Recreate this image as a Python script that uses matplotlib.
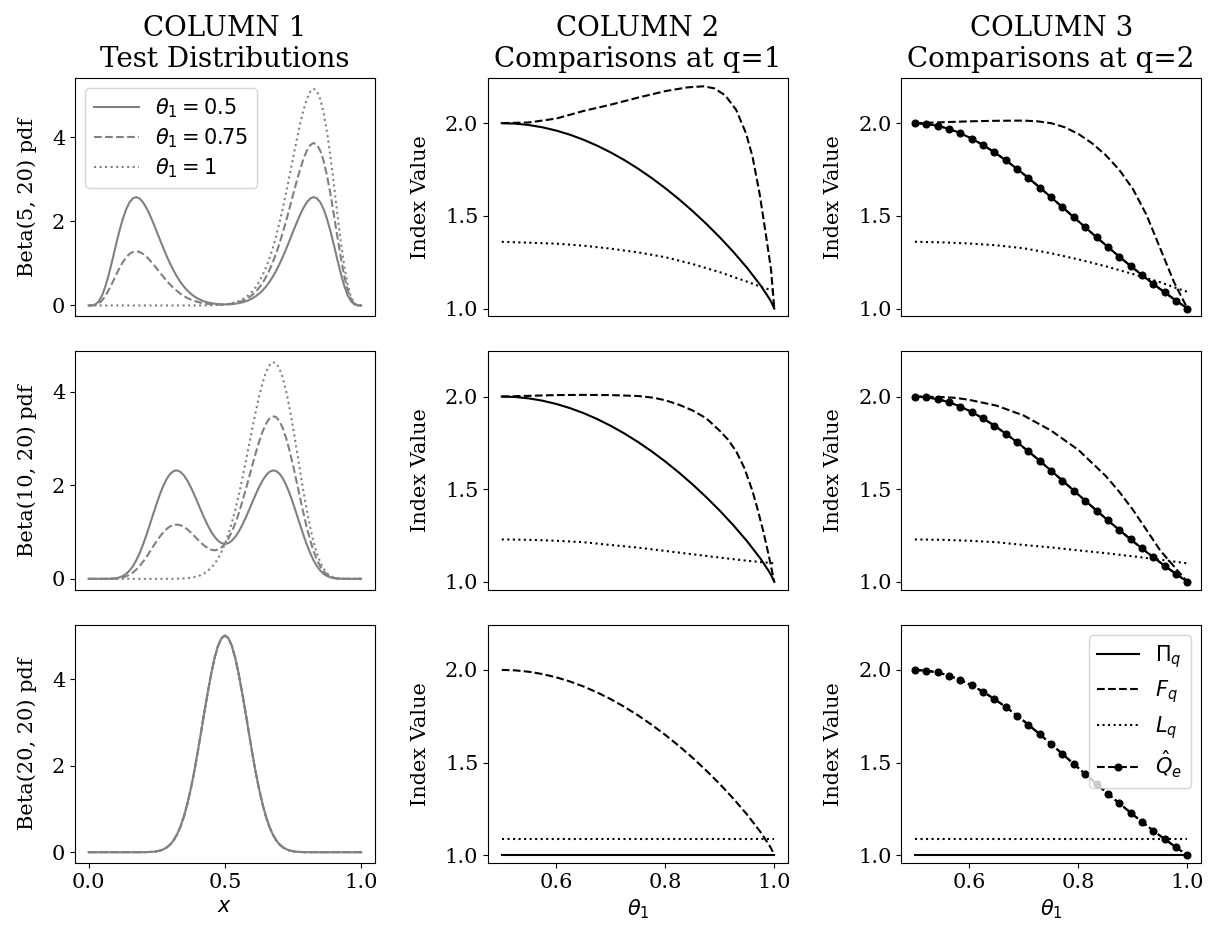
import numpy as np
import matplotlib
matplotlib.use("Agg")
import matplotlib.pyplot as plt

plt.rcParams['font.family'] = 'serif'
plt.rcParams['font.serif'] = ['DejaVu Serif']
plt.rcParams['mathtext.fontset'] = 'dejavusans'

# ---------------- Column 1: test distributions (x sampled every 0.0125) ------
x_grid = np.linspace(0, 1, 81)

beta5_t050 = [0, 0.0021, 0.0257, 0.1017, 0.2506, 0.4757, 0.7643, 1.0935, 1.4354, 1.7626,
              2.051, 2.2856, 2.453, 2.5497, 2.577, 2.541, 2.450, 2.3151, 2.1465, 1.9569,
              1.755, 1.5501, 1.3495, 1.1583, 0.981, 0.8202, 0.677, 0.5521, 0.4445, 0.3538,
              0.278, 0.2163, 0.1665, 0.1263, 0.095, 0.0712, 0.0535, 0.0405, 0.032, 0.027,
              0.025,
              0.027, 0.032, 0.0405, 0.0535, 0.0712, 0.095, 0.1263, 0.1665, 0.2163, 0.278,
              0.3538, 0.4445, 0.5521, 0.677, 0.8202, 0.981, 1.1583, 1.3495, 1.5501, 1.755,
              1.9569, 2.1465, 2.3151, 2.450, 2.541, 2.577, 2.5497, 2.453, 2.2856, 2.051,
              1.7626, 1.4354, 1.0935, 0.7643, 0.4757, 0.2506, 0.1017, 0.0257, 0.0021, 0]
beta5_t075 = [0, 0.001, 0.0128, 0.0508, 0.1253, 0.2379, 0.3821, 0.5467, 0.7177, 0.8813,
              1.0255, 1.1428, 1.2265, 1.2749, 1.2885, 1.2705, 1.225, 1.1575, 1.0733, 0.9784,
              0.8775, 0.7751, 0.6748, 0.5791, 0.4905, 0.4101, 0.3385, 0.2760, 0.2223, 0.1769,
              0.139, 0.1084, 0.0838, 0.0638, 0.0485, 0.0372, 0.0293, 0.0241, 0.022, 0.0221,
              0.025,
              0.0318, 0.042, 0.0569, 0.0778, 0.1052, 0.1415, 0.1888, 0.2493, 0.3241, 0.417,
              0.5306, 0.667, 0.8281, 1.0155, 1.2303, 1.4715, 1.7374, 2.0243, 2.3252, 2.6325,
              2.9353, 3.2198, 3.4726, 3.675, 3.8115, 3.8655, 3.8246, 3.6795, 3.4284, 3.0765,
              2.6439, 2.1530, 1.6402, 1.1464, 0.7136, 0.3759, 0.1525, 0.0385, 0.0031, 0]
beta5_t100 = [0, 0, 0, 0, 0, 0, 0, 0, 0, 0,
              0, 0, 0, 0, 0, 0, 0, 0, 0, 0,
              0, 0, 0, 0, 0, 0, 0, 0, 0, 0,
              0, 0.0005, 0.001, 0.0013, 0.002, 0.0032, 0.005, 0.0077, 0.012, 0.0173,
              0.025,
              0.0366, 0.052, 0.0733, 0.102, 0.1392, 0.188, 0.2513, 0.332, 0.4320, 0.556,
              0.7075, 0.889, 1.1041, 1.354, 1.6404, 1.962, 2.3165, 2.699, 3.1002, 3.510,
              3.9137, 4.293, 4.6301, 4.900, 5.0820, 5.154, 5.0994, 4.906, 4.5712, 4.102,
              3.5252, 2.8707, 2.1869, 1.5285, 0.9514, 0.5012, 0.2033, 0.0513, 0.0041, 0]

beta10_t050 = [0, 0, 0, 0, 0.0001, 0.0005, 0.0017, 0.0053, 0.0136, 0.0300,
               0.059, 0.1059, 0.1755, 0.2723, 0.3985, 0.555, 0.739, 0.9455, 1.167, 1.3937,
               1.6155, 1.8209, 2.0002, 2.1447, 2.2475, 2.3049, 2.3155, 2.2812, 2.2055, 2.0945,
               1.956, 1.7971, 1.628, 1.4558, 1.29, 1.1366, 1.003, 0.8935, 0.8125, 0.7629,
               0.746,
               0.7629, 0.8125, 0.8935, 1.003, 1.1366, 1.29, 1.4558, 1.628, 1.7971, 1.956,
               2.0945, 2.2055, 2.2812, 2.3155, 2.3049, 2.2475, 2.1447, 2.0002, 1.8209, 1.6155,
               1.3937, 1.167, 0.9455, 0.739, 0.555, 0.3985, 0.2723, 0.1755, 0.1059, 0.059,
               0.0300, 0.0136, 0.0053, 0.0017, 0.0005, 0.0001, 0, 0, 0, 0]
beta10_t075 = [0, 0, 0, 0, 0, 0.0002, 0.0009, 0.0027, 0.0068, 0.0150,
               0.0295, 0.0530, 0.0878, 0.1362, 0.1993, 0.2775, 0.3695, 0.4728, 0.5835, 0.6969,
               0.8078, 0.9105, 1.0002, 1.0726, 1.1243, 1.1533, 1.1593, 1.1434, 1.1073, 1.0547,
               0.990, 0.9169, 0.842, 0.7691, 0.705, 0.6535, 0.6205, 0.6094, 0.6248, 0.6695,
               0.746,
               0.8564, 1.0003, 1.1777, 1.3855, 1.6197, 1.875, 2.1424, 2.414, 2.6773, 2.922,
               3.1344, 3.3038, 3.4192, 3.4718, 3.4564, 3.3708, 3.2167, 3.0, 2.7314, 2.4233,
               2.0906, 1.7505, 1.4183, 1.1085, 0.8325, 0.5978, 0.4085, 0.2633, 0.1589, 0.0885,
               0.0449, 0.0203, 0.008, 0.0026, 0.0007, 0.0001, 0, 0, 0, 0]
beta10_t100 = [0, 0, 0, 0, 0, 0, 0, 0, 0, 0,
               0, 0, 0, 0, 0, 0, 0, 0, 0, 0,
               0, 0, 0.0003, 0.0005, 0.001, 0.0017, 0.003, 0.0054, 0.009, 0.0148,
               0.024, 0.0366, 0.056, 0.0824, 0.120, 0.1704, 0.238, 0.3252, 0.437, 0.5760,
               0.746,
               0.9498, 1.188, 1.4618, 1.768, 2.1028, 2.460, 2.8291, 3.200, 3.5575, 3.888,
               4.1742, 4.402, 4.5570, 4.628, 4.6080, 4.494, 4.2888, 4.000, 3.6418, 3.231,
               2.7874, 2.334, 1.8910, 1.478, 1.1100, 0.797, 0.5446, 0.351, 0.2118, 0.118,
               0.0599, 0.0271, 0.0106, 0.0034, 0.0009, 0.0001, 0, 0, 0, 0]

beta20_all = [0, 0, 0, 0, 0, 0, 0, 0, 0, 0,
              0, 0, 0, 0, 0.0002, 0.0004, 0.001, 0.0024, 0.005, 0.011,
              0.021, 0.0389, 0.068, 0.1139, 0.183, 0.2817, 0.419, 0.6013, 0.836, 1.1256,
              1.471, 1.8689, 2.309, 2.7772, 3.254, 3.7179, 4.143, 4.5051, 4.782, 4.9561,
              5.015,
              4.9561, 4.782, 4.5051, 4.143, 3.7179, 3.254, 2.7772, 2.309, 1.8689, 1.471,
              1.1256, 0.836, 0.6013, 0.419, 0.2817, 0.183, 0.1139, 0.068, 0.0389, 0.021,
              0.011, 0.005, 0.0024, 0.001, 0.0004, 0.0002, 0, 0, 0, 0,
              0, 0, 0, 0, 0, 0, 0, 0, 0, 0]

theta_labels = [r'$\theta_1 = 0.5$', r'$\theta_1 = 0.75$', r'$\theta_1 = 1$']
col1_ylabels = ['Beta(5, 20) pdf', 'Beta(10, 20) pdf', 'Beta(20, 20) pdf']

# ---------------- Columns 2 & 3: index values vs theta_1 --------------------
theta_q1 = [0.5, 0.525, 0.55, 0.575, 0.6, 0.625, 0.65, 0.675, 0.7, 0.725, 0.75,
            0.775, 0.8, 0.825, 0.85, 0.875, 0.9, 0.925, 0.95, 0.975, 0.99, 0.995, 1.0]
hill_q1 = [2.0, 1.9975, 1.9900, 1.9775, 1.9601, 1.9378, 1.9107, 1.8787, 1.8420,
           1.8007, 1.7548, 1.7043, 1.6494, 1.5900, 1.5261, 1.4576, 1.3842, 1.3052,
           1.2196, 1.1240, 1.0576, 1.0320, 1.0]

theta_q2 = [0.5, 0.525, 0.55, 0.575, 0.6, 0.625, 0.65, 0.675, 0.7, 0.725, 0.75,
            0.775, 0.8, 0.825, 0.85, 0.875, 0.9, 0.925, 0.95, 0.975, 1.0]
hill_q2 = [2.0, 1.9950, 1.9802, 1.9560, 1.9231, 1.8824, 1.8349, 1.7817, 1.7241,
           1.6632, 1.6, 1.5355, 1.4706, 1.4060, 1.3423, 1.28, 1.2195, 1.1611,
           1.1050, 1.0513, 1.0]

# F_q, q=1
f1_r1_theta = [0.5, 0.55, 0.6, 0.65, 0.7, 0.75, 0.8, 0.84, 0.87, 0.89, 0.91, 0.93,
               0.948, 0.96, 0.973, 0.985, 0.994, 1.0]
f1_r1 = [2.0, 2.004, 2.025, 2.066, 2.100, 2.138, 2.173, 2.193, 2.199, 2.188, 2.150,
         2.072, 1.946, 1.820, 1.620, 1.390, 1.210, 1.0]
f1_r2_theta = [0.5, 0.55, 0.6, 0.65, 0.7, 0.75, 0.78, 0.8, 0.825, 0.85, 0.875, 0.9,
               0.915, 0.93, 0.945, 0.96, 0.97, 0.98, 0.99, 1.0]
f1_r2 = [2.0, 2.004, 2.008, 2.009, 2.008, 2.003, 1.993, 1.980, 1.956, 1.925, 1.883,
         1.815, 1.768, 1.705, 1.615, 1.490, 1.385, 1.270, 1.140, 1.0]
# F_q, q=2
f2_r1_theta = [0.5, 0.55, 0.6, 0.65, 0.7, 0.725, 0.75, 0.775, 0.8, 0.825, 0.85,
               0.875, 0.9, 0.925, 0.95, 0.975, 1.0]
f2_r1 = [2.0, 2.005, 2.010, 2.013, 2.014, 2.010, 2.0, 1.978, 1.942, 1.892, 1.828,
         1.748, 1.645, 1.505, 1.325, 1.145, 1.0]
f2_r2_theta = [0.5, 0.525, 0.55, 0.575, 0.6, 0.65, 0.7, 0.75, 0.8, 0.85, 0.875,
               0.9, 0.925, 0.95, 0.975, 1.0]
f2_r2 = [2.0, 1.999, 1.997, 1.993, 1.982, 1.951, 1.897, 1.816, 1.712, 1.572, 1.486,
         1.389, 1.280, 1.170, 1.085, 1.0]

# L_q
l_theta = [0.5, 0.55, 0.6, 0.65, 0.7, 0.75, 0.8, 0.85, 0.9, 0.95, 0.98, 1.0]
l1_r1 = [1.360, 1.355, 1.350, 1.339, 1.323, 1.303, 1.277, 1.240, 1.196, 1.145,
         1.112, 1.095]
l2_r1 = [1.360, 1.357, 1.351, 1.341, 1.325, 1.298, 1.265, 1.228, 1.186, 1.142,
         1.110, 1.090]
l1_r2 = [1.229, 1.227, 1.222, 1.214, 1.199, 1.185, 1.167, 1.149, 1.131, 1.114,
         1.106, 1.100]
l2_r2 = [1.229, 1.227, 1.222, 1.214, 1.199, 1.186, 1.170, 1.155, 1.138, 1.120,
         1.108, 1.100]
flat_theta = [0.5, 1.0]
pi_r3 = [1.0, 1.0]
l_r3 = [1.09, 1.09]

# Q-hat estimate (q=2)
theta_est = [0.5, 0.5208, 0.5417, 0.5625, 0.5833, 0.6042, 0.625, 0.6458, 0.6667,
             0.6875, 0.7083, 0.7292, 0.75, 0.7708, 0.7917, 0.8125, 0.8333, 0.8542,
             0.875, 0.8958, 0.9167, 0.9375, 0.9583, 0.9792, 1.0]
qhat = [2.0, 1.9965, 1.9862, 1.9692, 1.9459, 1.9168, 1.8824, 1.8432, 1.8, 1.7534,
        1.7041, 1.6528, 1.6, 1.5463, 1.4922, 1.4382, 1.3846, 1.3318, 1.28, 1.2295,
        1.1803, 1.1327, 1.0868, 1.0425, 1.0]

titles = ['COLUMN 1\nTest Distributions', 'COLUMN 2\nComparisons at q=1',
          'COLUMN 3\nComparisons at q=2']

TICK = 15
LAB = 15
TIT = 20
LEG = 15
LPAD = 11

fig, axes = plt.subplots(3, 3, figsize=(12.1, 9.26), dpi=100)
fig.subplots_adjust(left=0.062, right=0.9926, bottom=0.068, top=0.9158,
                    wspace=0.378, hspace=0.147)

col1_data = [(beta5_t050, beta5_t075, beta5_t100),
             (beta10_t050, beta10_t075, beta10_t100),
             (beta20_all, beta20_all, beta20_all)]
styles = ['-', '--', ':']
for r in range(3):
    ax = axes[r, 0]
    for series, ls, lab in zip(col1_data[r], styles, theta_labels):
        ax.plot(x_grid, series, color='gray', ls=ls, lw=1.5, label=lab)
    ax.set_yticks([0, 2, 4])
    ax.set_ylabel(col1_ylabels[r], fontsize=LAB, labelpad=LPAD)
    if r == 0:
        ax.legend(loc='upper left', fontsize=LEG, labelspacing=0.3,
                  handlelength=2.15)
    if r < 2:
        ax.set_xticks([])
    else:
        ax.set_xticks([0.0, 0.5, 1.0])
        ax.set_xlabel(r'$x$', fontsize=LAB)

pi_rows_q1 = [(theta_q1, hill_q1), (theta_q1, hill_q1), (flat_theta, pi_r3)]
pi_rows_q2 = [(theta_q2, hill_q2), (theta_q2, hill_q2), (flat_theta, pi_r3)]
f_rows_q1 = [(f1_r1_theta, f1_r1), (f1_r2_theta, f1_r2), (theta_q1, hill_q1)]
f_rows_q2 = [(f2_r1_theta, f2_r1), (f2_r2_theta, f2_r2), (theta_q2, hill_q2)]
l_rows_q1 = [(l_theta, l1_r1), (l_theta, l1_r2), (flat_theta, l_r3)]
l_rows_q2 = [(l_theta, l2_r1), (l_theta, l2_r2), (flat_theta, l_r3)]

for c, (pis, fs, ls_) in enumerate([(pi_rows_q1, f_rows_q1, l_rows_q1),
                                     (pi_rows_q2, f_rows_q2, l_rows_q2)], start=1):
    for r in range(3):
        ax = axes[r, c]
        ax.plot(*pis[r], color='black', ls='-', lw=1.5, label=r'$\Pi_q$')
        ax.plot(*fs[r], color='black', ls='--', lw=1.5, label=r'$F_q$')
        ax.plot(*ls_[r], color='black', ls=':', lw=1.5, label=r'$L_q$')
        if c == 2:
            ax.plot(theta_est, qhat, color='black', ls='--', lw=1.5, marker='o',
                    ms=4.8, label=r'$\hat{Q}_e$')
        ax.set_xlim(0.475, 1.025)
        ax.set_ylim(0.958, 2.244)
        ax.set_yticks([1.0, 1.5, 2.0])
        ax.set_ylabel('Index Value', fontsize=LAB, labelpad=LPAD)
        if r < 2:
            ax.set_xticks([])
        else:
            ax.set_xticks([0.6, 0.8, 1.0])
            ax.set_xlabel(r'$\theta_1$', fontsize=LAB)
        if c == 2 and r == 2:
            ax.legend(loc='upper right', fontsize=LEG, labelspacing=0.4)

for ax in axes.flat:
    ax.tick_params(labelsize=TICK)

for c in range(3):
    axes[0, c].set_title(titles[c], fontsize=TIT, pad=8)

fig.savefig('out.png', dpi=100)
